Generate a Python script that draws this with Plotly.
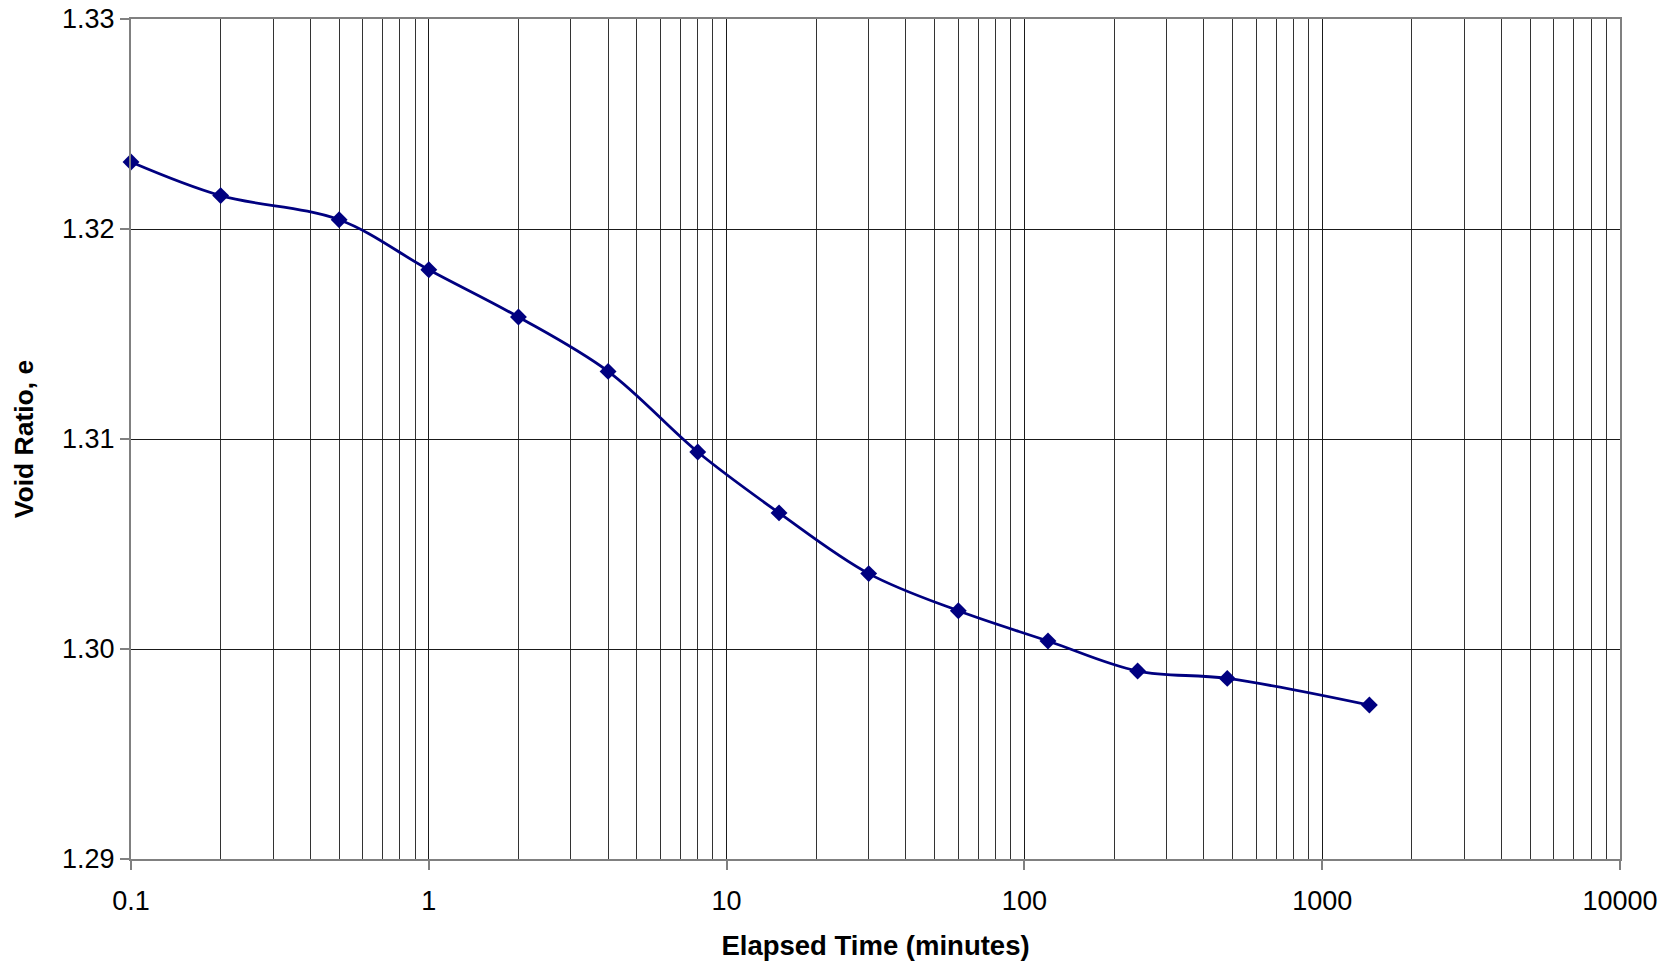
import plotly.graph_objects as go

elapsed_time = [0.1, 0.2, 0.5, 1, 2, 4, 8, 15, 30, 60, 120, 240, 480, 1440]
void_ratio = [1.32319, 1.32159, 1.32044, 1.31806, 1.31581, 1.31322, 1.30938,
              1.30648, 1.30359, 1.30182, 1.30038, 1.29895, 1.29860, 1.29733]

x_major = [0.1, 1, 10, 100, 1000, 10000]
x_labels = ["0.1", "1", "10", "100", "1000", "10000"]
x_minor = [m * 10 ** k for k in range(-1, 4) for m in range(2, 10)]
y_ticks = [1.29, 1.30, 1.31, 1.32, 1.33]

FONT = "Arial, 'Liberation Sans', sans-serif"

fig = go.Figure()
fig.add_trace(go.Scatter(
    x=elapsed_time, y=void_ratio, mode="lines+markers",
    line=dict(color="#000080", width=2.8, shape="spline", smoothing=1),
    marker=dict(symbol="diamond", size=13, color="#000080"),
    showlegend=False, cliponaxis=False,
))

fig.update_layout(
    width=1673, height=968,
    margin=dict(l=131, r=53, t=19, b=109),
    paper_bgcolor="white", plot_bgcolor="white",
    font=dict(family=FONT, size=27, color="black"),
)
fig.update_xaxes(
    type="log", range=[-1, 4], automargin=False,
    tickmode="array", tickvals=x_major, ticktext=x_labels,
    ticks="outside", ticklen=9, tickcolor="#808080", tickwidth=2,
    ticklabelstandoff=8, ticklabeloverflow="allow",
    showgrid=True, gridcolor="#1a1a1a", gridwidth=1,
    minor=dict(tickmode="array", tickvals=x_minor, showgrid=True,
               gridcolor="#333333", gridwidth=1, ticks=""),
    showline=True, linecolor="#808080", linewidth=2, mirror=True,
    zeroline=False,
    title=dict(text="<b>Elapsed Time (minutes)</b>", font=dict(size=27.5), standoff=20),
    tickfont=dict(size=27),
)
fig.update_yaxes(
    range=[1.29, 1.33], tickmode="array", tickvals=y_ticks, tickformat=".2f",
    automargin=False, ticklabeloverflow="allow",
    ticks="outside", ticklen=9, tickcolor="#808080", tickwidth=2,
    showgrid=True, gridcolor="#1a1a1a", gridwidth=1,
    showline=True, linecolor="#808080", linewidth=2, mirror=True,
    zeroline=False,
    title=dict(text="<b>Void Ratio, e</b>", font=dict(size=26.5), standoff=21),
    tickfont=dict(size=27),
)

fig.write_html(
    "out.html",
    config={"displayModeBar": False},
    post_script="document.body.style.margin='0';document.body.style.overflow='hidden';",
)
